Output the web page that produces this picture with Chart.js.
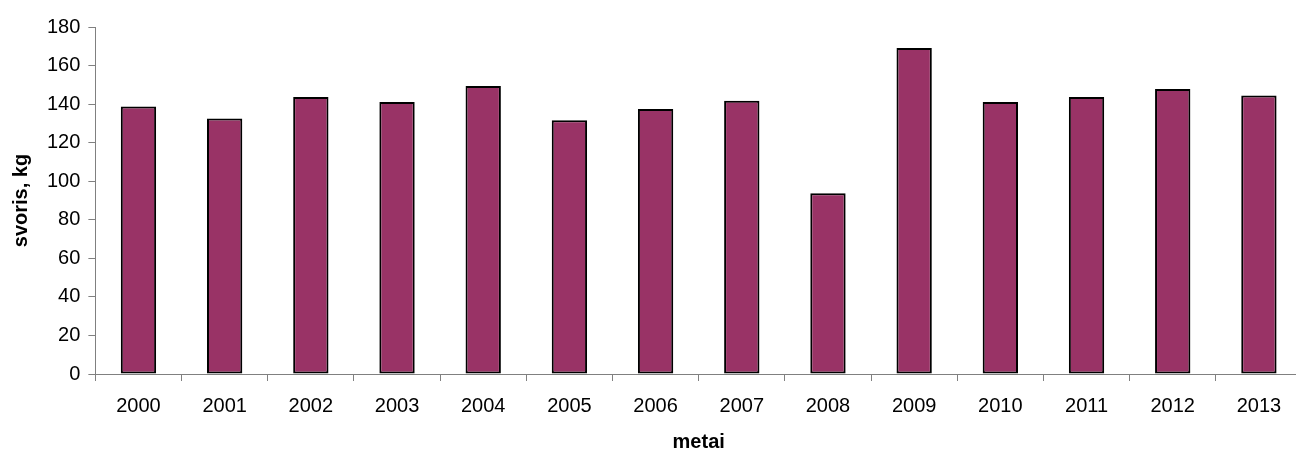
<!DOCTYPE html>
<html>
<head>
<meta charset="utf-8">
<script src="https://cdn.jsdelivr.net/npm/chart.js@4/dist/chart.umd.min.js"></script>
<style>
    html, body { margin: 0; padding: 0; background: #fff; overflow: hidden; }
    #wrap { width: 1302px; height: 451px; }
</style>
</head>
<body>
<div id="wrap"><canvas id="svorisChart"></canvas></div>
<script>
// Duomenys
const metai = ['2000', '2001', '2002', '2003', '2004', '2005', '2006', '2007', '2008', '2009', '2010', '2011', '2012', '2013'];
const svoris = [138.7, 132.5, 143.7, 141.1, 149.4, 131.6, 137.5, 141.8, 93.7, 169.1, 141.1, 143.7, 147.8, 144.5];
const yTicks = [0, 20, 40, 60, 80, 100, 120, 140, 160, 180];

const fontFamily = '"Liberation Sans", Arial, sans-serif';

const chartConfig = {
    type: 'bar',
    data: {
        labels: metai,
        datasets: [{
            data: svoris,
            backgroundColor: '#993366',
            borderColor: '#000',
            borderWidth: 2,
            borderSkipped: false,
            categoryPercentage: 1.0,
            barPercentage: 0.41
        }]
    },
    options: {
        responsive: true,
        maintainAspectRatio: false,
        animation: false,
        devicePixelRatio: 1,
        layout: { padding: { top: 27, left: 5, right: 0, bottom: 0 } },
        scales: {
            y: {
                min: 0,
                max: 180,
                afterBuildTicks: (axis) => { axis.ticks = yTicks.map(v => ({ value: v })); },
                border: { display: true, color: '#808080', width: 1 },
                grid: { drawOnChartArea: false, color: '#808080', tickLength: 7 },
                ticks: { color: '#000', font: { family: fontFamily, size: 20 }, padding: 8 },
                title: { display: true, text: 'svoris, kg', color: '#000', font: { family: fontFamily, size: 20, weight: 'bold' }, padding: { bottom: 6 } }
            },
            x: {
                afterFit: (axis) => { axis.height = 77; },
                border: { display: true, color: '#808080', width: 1 },
                grid: { drawOnChartArea: false, color: '#808080', tickLength: 7, offset: true },
                ticks: { color: '#000', font: { family: fontFamily, size: 20 }, padding: 13, maxRotation: 0 },
                title: { display: true, text: 'metai', color: '#000', font: { family: fontFamily, size: 20, weight: 'bold', lineHeight: 0.9 }, padding: { top: 0, bottom: 0 } }
            }
        },
        plugins: {
            legend: { display: false },
            tooltip: { enabled: false }
        }
    }
};

const chart = new Chart(document.getElementById('svorisChart'), chartConfig);
</script>
</body>
</html>
